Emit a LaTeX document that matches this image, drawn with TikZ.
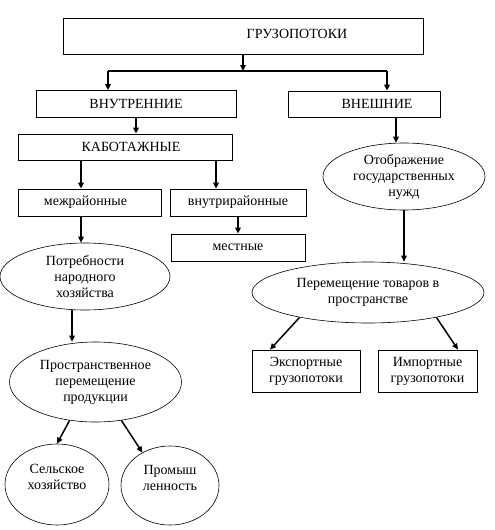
\documentclass[tikz,border=0pt]{standalone}
\usepackage{fontspec}
\setmainfont{Liberation Serif}
\usetikzlibrary{shapes.geometric,arrows.meta}
\begin{document}
\begin{tikzpicture}[x=1pt,y=-1pt,
  every node/.style={font=\fontsize{14}{16}\selectfont, align=center},
  box/.style={draw, line width=0.8pt, inner sep=0pt},
  oval/.style={draw, ellipse, line width=0.6pt, inner sep=0pt},
  arr/.style={line width=1.5pt, -{Triangle[length=6pt,width=5.5pt]}},
  ln/.style={line width=1.5pt}]
\useasboundingbox (0,0) rectangle (495,530);
\fill[white] (0,0) rectangle (495,530);

% boxes
\node[box, minimum width=360pt, minimum height=36pt] (top) at (243,36) {\raisebox{5pt}{\hspace*{108pt}ГРУЗОПОТОКИ}};
\node[box, minimum width=200pt, minimum height=27pt] (vnutr) at (136,104) {ВНУТРЕННИЕ};
\node[box, minimum width=152pt, minimum height=26pt] (vnesh) at (364,104) {\hspace*{26pt}ВНЕШНИЕ};
\node[box, minimum width=214pt, minimum height=26pt] (kab) at (125,147) {\hspace*{12pt}КАБОТАЖНЫЕ};
\node[box, minimum width=143pt, minimum height=27pt] (mezh) at (89.5,202.5) {межрайонные\hspace*{8pt}};
\node[box, minimum width=136pt, minimum height=27pt] (vnr) at (238,202.5) {внутрирайонные};
\node[box, minimum width=134pt, minimum height=27pt] (mest) at (238,247.5) {местные};
\node[box, minimum width=108pt, minimum height=42pt] (exp) at (306,371) {Экспортные\\грузопотоки};
\node[box, minimum width=99pt, minimum height=42pt] (imp) at (427.5,371) {Импортные\\грузопотоки};

% ellipses
\node[oval, minimum width=170pt, minimum height=67pt] (potr) at (85,276.5) {Потребности\\народного\\хозяйства};
\node[oval, minimum width=172pt, minimum height=80pt] (prostr) at (95.5,382) {Пространственное\\перемещение\\продукции};
\node[oval, minimum width=104pt, minimum height=81pt] (sel) at (57,484.5) {Сельское\\хозяйство\\~};
\node[oval, minimum width=98pt, minimum height=79pt] (prom) at (170,485.5) {Промыш\\ленность\\~};
\node[oval, minimum width=162pt, minimum height=67pt] (otobr) at (404,176.5) {Отображение\\государственных\\нужд};
\node[oval, minimum width=232pt, minimum height=61pt] (perem) at (368,292.5) {Перемещение товаров в\\пространстве};

% helper coordinates
\coordinate (split) at (243,71);
\coordinate (jl) at (108,71);
\coordinate (jr) at (387,71);
\coordinate (xk1) at (81,0);
\coordinate (xk2) at (216,0);
\coordinate (xp) at (72,0);
\coordinate (xr) at (396,0);
\coordinate (xe) at (270,0);
\coordinate (xi) at (458,0);

% connectors
\draw[arr] (top.south) -- (split);
\draw[ln] (jl) -- (jr);
\draw[arr] (jl) -- (jl |- vnutr.north);
\draw[arr] (jr) -- (jr |- vnesh.north);
\draw[arr] (vnutr.south) -- (vnutr.south |- kab.north);
\draw[arr] (kab.south -| xk1) -- (mezh.north -| xk1);
\draw[arr] (kab.south -| xk2) -- (vnr.north -| xk2);
\draw[arr] (vnr.south) -- (mest.north);
\draw[arr] (mezh.south -| xk1) -- (potr.north -| xk1);
\draw[arr] (potr.south -| xp) -- (prostr.north -| xp);
\draw[arr] (prostr.236) -- (sel.north);
\draw[arr] (prostr.304) -- (prom.130);
\draw[arr] (vnesh.south -| xr) -- (otobr.north -| xr);
\draw[arr] (otobr.south) -- (otobr.south |- perem.north);
\draw[arr] (perem.200) -- (exp.north -| xe);
\draw[arr] (perem.340) -- (imp.north -| xi);
\end{tikzpicture}
\end{document}
